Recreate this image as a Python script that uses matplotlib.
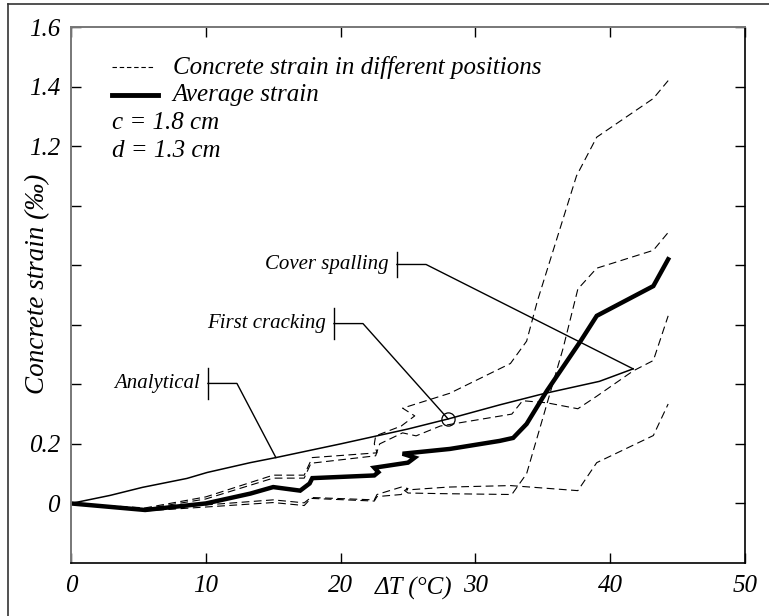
import numpy as np
import matplotlib.pyplot as plt
from matplotlib.lines import Line2D

plt.rcParams['font.family'] = ['Liberation Serif', 'DejaVu Serif']
plt.rcParams['font.style'] = 'italic'
plt.rcParams['mathtext.fontset'] = 'custom'
plt.rcParams['mathtext.it'] = 'Liberation Serif:italic'
plt.rcParams['mathtext.rm'] = 'Liberation Serif:italic'

# Data (Delta T in degC, strain in per mille)
analytical_x = [0, 2.9, 5.3, 8.6, 10.1, 13.3, 15.2, 20, 25, 28, 31.8, 35.0, 39.2, 41.7]
analytical_y = [0, 0.027, 0.054, 0.084, 0.104, 0.137, 0.154, 0.2, 0.25, 0.284, 0.331, 0.368, 0.41, 0.452]

avg_x = [0, 5.5, 10, 13.3, 15, 17, 17.7, 17.9, 22.5, 22.8, 22.5, 25, 25.5, 24.6, 28.1,
         31.8, 32.8, 33.8, 35.3, 37.8, 39, 43.2, 44.3]
avg_y = [0, -0.022, 0, 0.033, 0.055, 0.043, 0.067, 0.085, 0.094, 0.105, 0.12, 0.137, 0.154,
         0.167, 0.183, 0.21, 0.22, 0.267, 0.378, 0.545, 0.63, 0.73, 0.82]

# concrete strain in different positions
pos1_x = [0, 5.5, 10, 15, 17.3, 17.6, 17.9, 22.7, 22.5, 22.6, 24.5, 25.5, 24.6, 28.1,
          32.6, 33.8, 34.6, 37.5, 39, 43.2, 44.3]
pos1_y = [0, -0.015, 0.022, 0.095, 0.095, 0.125, 0.154, 0.17, 0.2, 0.227, 0.26, 0.294, 0.32,
          0.37, 0.47, 0.545, 0.68, 1.10, 1.23, 1.36, 1.42]

pos2_x = [0, 5.5, 10, 15, 17.3, 17.8, 22.5, 22.7, 24.5, 24.7, 25, 27.4, 32.7, 33.8,
          36.5, 37.6, 39, 43.2, 44.3]
pos2_y = [0, -0.025, -0.012, 0.003, -0.007, 0.017, 0.008, 0.023, 0.03, 0.045, 0.035, 0.033,
          0.03, 0.1, 0.52, 0.72, 0.79, 0.85, 0.91]

pos3_x = [0, 5.5, 10, 15, 17.3, 17.8, 22.6, 22.9, 24.6, 25.6, 27.4, 32.7, 33.5, 35.3,
          37.6, 39, 41.7, 43.2, 44.3]
pos3_y = [0, -0.018, 0.015, 0.085, 0.085, 0.135, 0.16, 0.2, 0.237, 0.227, 0.26, 0.30, 0.345,
          0.338, 0.318, 0.36, 0.445, 0.48, 0.63]

pos4_x = [0, 5.5, 10, 15, 17.3, 17.8, 22.5, 22.7, 24.5, 25, 24.8, 28, 32.6, 37.6, 39,
          43.2, 44.3]
pos4_y = [0, -0.02, -0.005, 0.012, 0.002, 0.02, 0.012, 0.03, 0.055, 0.05, 0.045, 0.055, 0.06,
          0.043, 0.137, 0.228, 0.334]

first_crack = (27.97, 0.284)

# annotations: label, bar x, bar y-range, elbow x, target point
notes = [
    ('Cover spalling', 24.18, (0.759, 0.846), 26.34, (41.7, 0.452)),
    ('First cracking', 19.51, (0.552, 0.656), 21.66, first_crack),
    ('Analytical', 10.16, (0.351, 0.455), 12.31, (15.2, 0.154)),
]

fig = plt.figure(figsize=(7.69, 6.16), dpi=100)
ax = fig.add_axes([71/769, 1 - 563/616, 674/769, 536/616])

dash = (7, 4)
for px, py in [(pos1_x, pos1_y), (pos2_x, pos2_y), (pos3_x, pos3_y), (pos4_x, pos4_y)]:
    ax.plot(px, py, color='black', lw=0.8, dashes=dash)
ax.plot(analytical_x, analytical_y, color='black', lw=1.1)
ax.plot(avg_x, avg_y, color='black', lw=3.2, solid_joinstyle='miter')
ax.plot(*first_crack, 'o', ms=9.5, mfc='none', mec='black', mew=0.9)

for label, bx, (y0, y1), ex, (tx, ty) in notes:
    ym = (y0 + y1) / 2
    ax.plot([bx, bx], [y0, y1], color='black', lw=1.0)
    ax.plot([bx, ex, tx], [ym, ym, ty], color='black', lw=1.0)
    ax.text(bx - 0.6, ym, label, fontsize=15, ha='right', va='center', style='italic')

# legend drawn by hand
ax.plot([0.061, 0.122], [0.925, 0.925], transform=ax.transAxes, color='black', lw=0.8, dashes=(4, 2.5))
ax.plot([0.061, 0.129], [0.873, 0.873], transform=ax.transAxes, color='black', lw=3.5)
leg_kw = dict(transform=ax.transAxes, fontsize=18, va='center', style='italic')
ax.text(0.151, 0.925, 'Concrete strain in different positions', **leg_kw)
ax.text(0.151, 0.873, 'Average strain', **leg_kw)
ax.text(0.061, 0.821, 'c = 1.8 cm', **leg_kw)
ax.text(0.061, 0.769, 'd = 1.3 cm', **leg_kw)

ax.set_xlim(0, 50)
ax.set_ylim(-0.2, 1.6)
ax.set_xticks([0, 10, 20, 30, 40, 50])
yt = np.round(np.arange(0, 1.61, 0.2), 1)
ax.set_yticks(yt)
ax.set_yticklabels(['0' if v == 0 else (f'{v:.1f}' if v in (0.2, 1.2, 1.4, 1.6) else '') for v in yt])
ax.set_xticklabels(['0', '10', '20', '30', '40', '50'])
ax.tick_params(direction='in', length=7, width=1, top=True, right=True, labelsize=18, pad=8)
ax.tick_params(axis='x', pad=9)
for lbl in ax.get_xticklabels() + ax.get_yticklabels():
    lbl.set_fontstyle('italic')

for s in ['left', 'top']:
    ax.spines[s].set_color('#777777')
    ax.spines[s].set_linewidth(1.4)
for s in ['right', 'bottom']:
    ax.spines[s].set_color('black')
    ax.spines[s].set_linewidth(1.2)

ax.set_ylabel('Concrete strain (‰)', fontsize=19.5, style='italic')
ax.yaxis.set_label_coords(-0.031, 0.52)
ax.text(25.4, -0.047, 'ΔT (°C)', transform=ax.get_xaxis_transform(), fontsize=18,
        ha='center', va='center', style='italic')

# outer frame (top and left edges visible)
fig.add_artist(Line2D([8/769, 1], [1 - 4/616, 1 - 4/616], color='#333333', lw=1.2))
fig.add_artist(Line2D([8/769, 8/769], [0, 1 - 4/616], color='#333333', lw=1.2))

fig.savefig('out.png', dpi=100)
